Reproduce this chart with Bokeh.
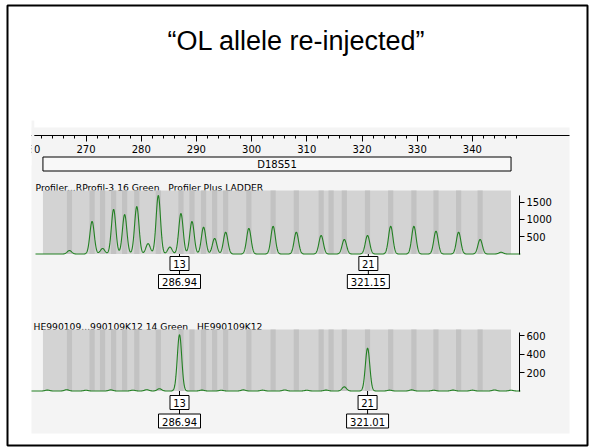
import numpy as np
from bokeh.plotting import figure
from bokeh.models import Range1d, LinearAxis, FixedTicker
from bokeh.embed import file_html
from bokeh.resources import INLINE
from bokeh.core.properties import value

# ---------------- data ----------------
TITLE = "\u201cOL allele re-injected\u201d"
LOCUS = "D18S51"
LOCUS_BP = [262.2, 347.0]
RULER_LABEL_BP = [260, 270, 280, 290, 300, 310, 320, 330, 340]
RULER_MINOR_BP = [262, 264, 266, 268, 272, 274, 276, 278, 282, 284, 286, 288,
                  292, 294, 296, 298, 302, 304, 306, 308, 312, 314, 316, 318,
                  322, 324, 326, 328, 332, 334, 336, 338, 342, 344, 346, 348]
LADDER_HEADER = "Profiler...RProfil-3 16 Green \u00a0 Profiler Plus LADDER"
SAMPLE_HEADER = "HE990109...990109K12 14 Green \u00a0 HE990109K12"

BIN_BP = [267.0, 271.1, 273.0, 275.0, 277.0, 279.2, 283.1, 287.2, 289.2, 291.3,
          293.3, 295.3, 299.5, 303.9, 308.1, 312.6, 314.4, 316.8, 321.0, 325.2,
          329.4, 333.4, 337.5, 341.4]

LADDER_PEAK_BP = [267.0, 271.1, 273.0, 275.0, 277.0, 279.2, 281.25, 283.1, 285.2,
                  287.2, 289.2, 291.3, 293.3, 295.3, 299.5, 303.9, 308.1, 312.6,
                  316.8, 321.0, 325.2, 329.4, 333.4, 337.5, 341.4, 345.2]
LADDER_PEAK_RFU = [100, 940, 160, 1290, 1140, 1370, 300, 1690, 200,
                   1170, 940, 775, 450, 630, 740, 800, 630, 535,
                   420, 535, 800, 800, 660, 630, 420, 50]

SAMPLE_PEAK_BP = [286.94, 321.01, 283.3, 316.8,
                  263.0, 266.5, 270.0, 274.5, 278.5, 281.0, 291.0, 294.5, 298.5,
                  302.0, 306.0, 310.0, 313.5, 325.0, 329.0, 333.0, 336.5, 340.0,
                  344.0, 347.0]
SAMPLE_PEAK_RFU = [608, 463, 25, 45,
                   10, 14, 8, 12, 9, 14, 10, 8, 12,
                   9, 11, 8, 10, 9, 12, 8, 10, 9,
                   11, 8]

LADDER_CALL_ALLELE = ["13", "21"]
LADDER_CALL_BP = [286.94, 321.15]
LADDER_CALL_SIZE = ["286.94", "321.15"]
SAMPLE_CALL_ALLELE = ["13", "21"]
SAMPLE_CALL_BP = [286.94, 321.01]
SAMPLE_CALL_SIZE = ["286.94", "321.01"]

LADDER_AXIS_TICKS = [500, 1000, 1500]
SAMPLE_AXIS_TICKS = [200, 400, 600]

# ---------------- layout (page pixels) ----------------
W, H = 592, 447
PX270, PX_PER_BP = 85.5, 5.52


def bp(xpx):
    return 270 + (xpx - PX270) / PX_PER_BP


P1_TOP, P1_BASE, K1 = 190.0, 253.5, 17.3 / 500.0
P2_TOP, P2_BASE, K2 = 329.0, 390.5, 18.5 / 200.0
RULER_Y = 135

FONT = value("DejaVu Sans")
GREEN = "#238023"

p = figure(width=W, height=H, output_backend="svg", toolbar_location=None,
           x_axis_type=None, y_axis_type=None,
           x_range=Range1d(bp(0), bp(W)), y_range=Range1d(H, 0),
           min_border=0, outline_line_color=None)
p.grid.visible = False
p.background_fill_color = "white"
p.border_fill_color = "white"
p.extra_x_ranges = {"px": Range1d(0, W)}
p.extra_y_ranges = {
    "p1": Range1d((P1_BASE - H) / K1, P1_BASE / K1),
    "p2": Range1d((P2_BASE - H) / K2, P2_BASE / K2),
}

# chart image background
p.quad(left=31, right=569, top=127, bottom=433, x_range_name="px",
       fill_color="#f4f4f4", line_color=None)

# locus box
p.quad(left=LOCUS_BP[0], right=LOCUS_BP[1], top=156.5, bottom=170.5,
       fill_color="#f8f8f8", line_color="black", line_width=1)
p.text(x=[sum(LOCUS_BP) / 2], y=[163.5], text=[LOCUS], text_font=FONT,
       text_font_size=value("10px"), text_align="center",
       text_baseline="middle", text_color="black")

# headers
p.text(x=[35], y=[186.5], text=[LADDER_HEADER], x_range_name="px",
       text_font=FONT, text_font_size=value("9.2px"), text_align="left",
       text_baseline="alphabetic", text_color="black")
p.text(x=[33], y=[326], text=[SAMPLE_HEADER], x_range_name="px",
       text_font=FONT, text_font_size=value("9.2px"), text_align="left",
       text_baseline="alphabetic", text_color="black")

bins = np.array(BIN_BP)


def panel(top, base, yname, peaks_bp, peaks_rfu, sigma, x_start_px,
          call_bp, call_allele, call_size, ticks, axis_top, off1, off2):
    p.quad(left=LOCUS_BP[0], right=LOCUS_BP[1], top=top, bottom=base,
           fill_color="#d3d3d3", line_color=None)
    p.quad(left=bins - 0.47, right=bins + 0.47, top=top, bottom=base,
           fill_color="#c2c2c2", line_color=None)
    xs = np.arange(bp(x_start_px), bp(520), 0.04)
    pb = np.array(peaks_bp)[:, None]
    ph = np.array(peaks_rfu)[:, None]
    ys = (ph * np.exp(-0.5 * ((xs[None, :] - pb) / sigma) ** 2)).sum(axis=0)
    p.line(xs, ys, y_range_name=yname, line_color=GREEN, line_width=1.1)
    # call labels
    n = len(call_bp)
    p.segment(x0=call_bp, y0=[base] * n, x1=call_bp, y1=[base + off2] * n,
              line_color="black", line_width=1)
    p.rect(x=call_bp, y=[base + off1] * n, width=19, height=14,
           width_units="screen", height_units="screen",
           fill_color="white", line_color="black", line_width=1)
    p.rect(x=call_bp, y=[base + off2] * n, width=42, height=14,
           width_units="screen", height_units="screen",
           fill_color="white", line_color="black", line_width=1)
    p.text(x=call_bp, y=[base + off1 + 0.5] * n, text=call_allele, text_font=FONT,
           text_font_size=value("10px"), text_align="center",
           text_baseline="middle", text_color="black")
    p.text(x=call_bp, y=[base + off2 + 0.5] * n, text=call_size, text_font=FONT,
           text_font_size=value("10px"), text_align="center",
           text_baseline="middle", text_color="black")
    ax = LinearAxis(y_range_name=yname, fixed_location=bp(519),
                    bounds=(0, axis_top),
                    ticker=FixedTicker(ticks=ticks, minor_ticks=[]))
    ax.axis_line_color = "black"
    ax.major_tick_line_color = "black"
    ax.major_tick_out = 5
    ax.major_tick_in = 0
    ax.minor_tick_out = 0
    ax.major_label_standoff = 2
    ax.major_label_text_font = "DejaVu Sans"
    ax.major_label_text_font_size = "10px"
    ax.major_label_text_color = "black"
    p.add_layout(ax, "right")


panel(P1_TOP, P1_BASE, "p1", LADDER_PEAK_BP, LADDER_PEAK_RFU, 0.40, 35,
      LADDER_CALL_BP, LADDER_CALL_ALLELE, LADDER_CALL_SIZE,
      LADDER_AXIS_TICKS, 1690, 9.5, 27.5)
panel(P2_TOP, P2_BASE, "p2", SAMPLE_PEAK_BP, SAMPLE_PEAK_RFU, 0.40, 31,
      SAMPLE_CALL_BP, SAMPLE_CALL_ALLELE, SAMPLE_CALL_SIZE,
      SAMPLE_AXIS_TICKS, 630, 11.5, 30)

# size ruler
ruler = LinearAxis(fixed_location=RULER_Y, bounds=(bp(20), bp(569)),
                   ticker=FixedTicker(ticks=RULER_LABEL_BP, minor_ticks=RULER_MINOR_BP))
ruler.axis_line_color = "black"
ruler.major_tick_line_color = "black"
ruler.minor_tick_line_color = "black"
ruler.major_tick_out = 6
ruler.major_tick_in = 0
ruler.minor_tick_out = 3
ruler.minor_tick_in = 0
ruler.major_label_standoff = 3
ruler.major_label_text_font = "DejaVu Sans"
ruler.major_label_text_font_size = "10px"
ruler.major_label_text_color = "black"
p.add_layout(ruler, "below")

# crop of the screenshot at its left edge
p.quad(left=0, right=31, top=120, bottom=165, x_range_name="px",
       fill_color="white", line_color=None, level="overlay")
p.quad(left=31, right=33.8, top=120, bottom=155, x_range_name="px",
       fill_color="#f4f4f4", line_color=None, level="overlay")

# slide title and frame
p.text(x=[296], y=[40], text=[TITLE], x_range_name="px",
       text_font=value("Liberation Sans"), text_font_size=value("27px"),
       text_align="center", text_baseline="middle", text_color="black")
p.quad(left=7, right=587, top=5, bottom=445, x_range_name="px",
       fill_color=None, line_color="black", line_width=2, level="overlay")

open("out.html", "w").write(file_html(p, INLINE))
